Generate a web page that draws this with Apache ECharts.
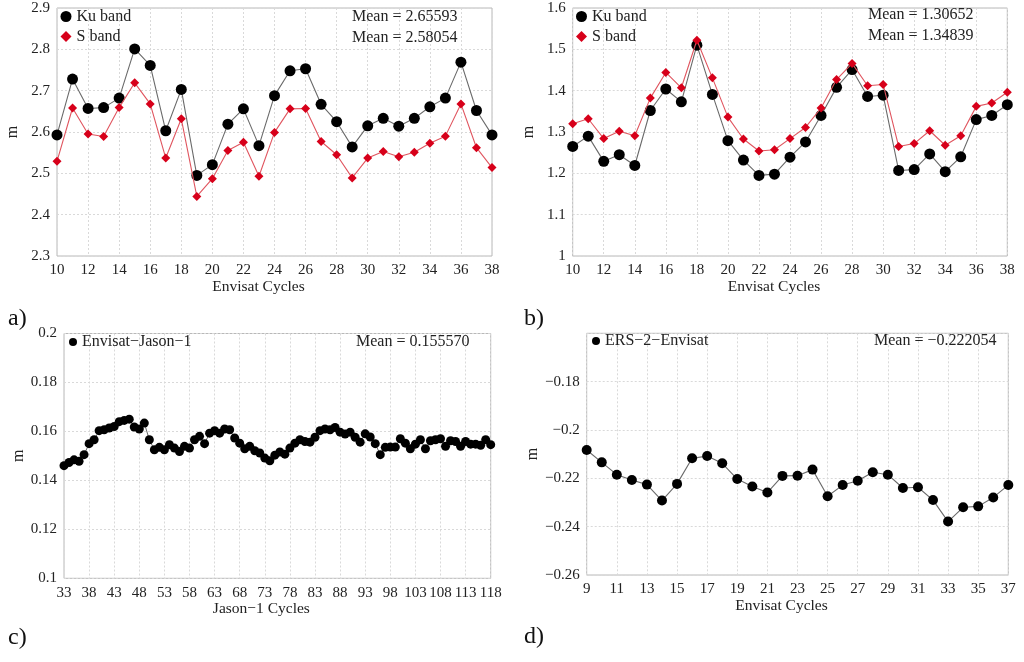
<!DOCTYPE html>
<html>
<head>
<meta charset="utf-8">
<script src="https://cdn.jsdelivr.net/npm/echarts@6/dist/echarts.min.js"></script>
<style>
html,body{margin:0;padding:0;background:#fff;}
#chart{width:1024px;height:662px;}
</style>
</head>
<body>
<div id="chart"></div>
<script>
// ---------- DATA ----------
const cyclesAB = [10,11,12,13,14,15,16,17,18,19,20,21,22,23,24,25,26,27,28,29,30,31,32,33,34,35,36,37,38];
const kuA = [2.593,2.728,2.657,2.659,2.682,2.801,2.761,2.603,2.703,2.495,2.521,2.619,2.656,2.567,2.688,2.748,2.753,2.667,2.625,2.564,2.615,2.633,2.614,2.633,2.661,2.682,2.769,2.652,2.593];
const sA  = [2.529,2.658,2.595,2.589,2.659,2.719,2.668,2.537,2.632,2.444,2.487,2.555,2.575,2.493,2.599,2.656,2.657,2.577,2.545,2.489,2.537,2.553,2.540,2.551,2.573,2.590,2.668,2.562,2.514];
const kuB = [1.265,1.290,1.229,1.245,1.219,1.352,1.404,1.373,1.510,1.391,1.279,1.232,1.195,1.198,1.239,1.276,1.340,1.408,1.451,1.386,1.389,1.207,1.209,1.247,1.204,1.240,1.330,1.340,1.366];
const sB  = [1.320,1.332,1.284,1.302,1.291,1.382,1.444,1.407,1.522,1.431,1.336,1.283,1.254,1.257,1.284,1.311,1.358,1.427,1.466,1.412,1.415,1.265,1.272,1.303,1.268,1.291,1.362,1.370,1.396];
const cyclesC = [];
for (let c = 33; c <= 118; c++) cyclesC.push(c);
const valC = [0.1460,0.1473,0.1484,0.1478,0.1505,0.1550,0.1566,0.1603,0.1607,0.1614,0.1620,0.1640,0.1645,0.1650,0.1618,0.1610,0.1634,0.1566,0.1525,0.1535,0.1525,
  0.1546,0.1532,0.1518,0.1539,0.1532,0.1566,0.1580,0.1550,0.1593,0.1603,0.1593,0.1610,0.1607,0.1573,0.1552,0.1529,0.1539,0.1521,0.1512,0.1491,0.1480,
  0.1503,0.1516,0.1507,0.1532,0.1552,0.1566,0.1559,0.1556,0.1576,0.1603,0.1610,0.1607,0.1616,0.1597,0.1589,0.1597,0.1576,0.1556,0.1590,0.1577,0.1550,
  0.1505,0.1535,0.1536,0.1536,0.1570,0.1552,0.1529,0.1548,0.1566,0.1529,0.1562,0.1566,0.1570,0.1539,0.1562,0.1559,0.1539,0.1559,0.1548,0.1548,0.1543,0.1566,0.1546];
const cyclesD = [9,10,11,12,13,14,15,16,17,18,19,20,21,22,23,24,25,26,27,28,29,30,31,32,33,34,35,36,37];
const valD = [-0.2083,-0.2134,-0.2185,-0.2207,-0.2226,-0.2292,-0.2223,-0.2117,-0.2108,-0.2138,-0.2203,-0.2234,-0.2259,-0.2190,-0.2189,-0.2164,-0.2274,-0.2228,-0.2210,-0.2175,-0.2185,-0.2240,-0.2237,-0.2290,-0.2379,-0.2320,-0.2316,-0.2279,-0.2228];

const seriesNames = ['Ku band','S band','Envisat\u2212Jason\u22121','ERS\u22122\u2212Envisat'];
const meanTexts = [
  ['Mean = 2.65593','Mean = 2.58054'],
  ['Mean = 1.30652','Mean = 1.34839'],
  ['Mean = 0.155570'],
  ['Mean = \u22120.222054']
];
const panelLabels = ['a)','b)','c)','d)'];
const xNames = ['Envisat Cycles','Envisat Cycles','Jason\u22121 Cycles','Envisat Cycles'];
const yName = 'm';

// ---------- STYLE ----------
const FONT = 'Liberation Serif';
const TXT = '#222';
const gridLine = {show:true, lineStyle:{color:'#d9d9d9', type:[2,2], width:1}};
const fmt = v => String(+v.toFixed(4)).replace('-', '\u2212');
const nameStyle = {fontFamily:FONT, fontSize:15.5, color:TXT, padding:[0,32,0,0]};

function pairs(xs, ys){ return xs.map((x,i)=>[x, ys[i]]); }

function xVal(idx, name){
  return {gridIndex:idx, type:'value', min:10, max:38, interval:2,
    axisLine:{show:false}, axisTick:{show:false}, splitLine:gridLine,
    axisLabel:{fontFamily:FONT, fontSize:15, color:TXT, margin:7},
    name:name, nameLocation:'middle', nameGap:23, nameTextStyle:nameStyle};
}
function xCat(idx, data, every, name){
  return {gridIndex:idx, type:'category', data:data.map(String), boundaryGap:false,
    axisLine:{show:false}, axisTick:{show:false},
    splitLine:{show:true, interval:every, lineStyle:{color:'#d9d9d9', type:[2,2], width:1}},
    axisLabel:{interval:every, fontFamily:FONT, fontSize:15, color:TXT, margin:7},
    name:name, nameLocation:'middle', nameGap:23, nameTextStyle:nameStyle};
}
function yAx(idx, min, max, interval, showMax){
  return {gridIndex:idx, type:'value', min:min, max:max, interval:interval,
    axisLine:{show:false}, axisTick:{show:false}, splitLine:gridLine,
    axisLabel:{fontFamily:FONT, fontSize:15, color:TXT, margin:7, formatter:fmt, showMaxLabel:showMax},
    name:yName, nameLocation:'middle', nameGap:36, nameRotate:90,
    nameTextStyle:{fontFamily:FONT, fontSize:16, color:TXT}};
}

const gridBase = {show:true, borderColor:'#b8b8b8', borderWidth:1, containLabel:false};

const titles = [];
const meanPos = [[352,9],[868,7],[356,334],[874,333]];
meanTexts.forEach((arr,p)=>{
  arr.forEach((t,j)=>{
    titles.push({text:t, left:meanPos[p][0], top:meanPos[p][1]+j*20.5, padding:0,
      textStyle:{fontFamily:FONT, fontSize:16, fontWeight:'normal', color:TXT}});
  });
});
const labPos = [[8,307],[524,307],[8,626],[524,625]];
panelLabels.forEach((t,p)=>{
  titles.push({text:t, left:labPos[p][0], top:labPos[p][1], padding:0,
    textStyle:{fontFamily:FONT, fontSize:24, fontWeight:'normal', color:'#111'}});
});

const legTS = {fontFamily:FONT, fontSize:16, color:TXT, lineHeight:17};
const legends = [
  {left:60.5, top:8, orient:'vertical', itemWidth:11, itemHeight:11, itemGap:3, padding:0, textStyle:legTS,
   data:[{name:seriesNames[0], icon:'circle'},{name:seriesNames[1], icon:'diamond'}]},
  {left:576, top:8, orient:'vertical', itemWidth:11, itemHeight:11, itemGap:3, padding:0, textStyle:legTS,
   data:[{name:seriesNames[0], icon:'circle'},{name:seriesNames[1], icon:'diamond'}]},
  {left:69, top:333.5, orient:'vertical', itemWidth:8, itemHeight:8, padding:0, textStyle:legTS,
   data:[{name:seriesNames[2], icon:'circle'}]},
  {left:592, top:332.5, orient:'vertical', itemWidth:8, itemHeight:8, padding:0, textStyle:legTS,
   data:[{name:seriesNames[3], icon:'circle'}]}
];

const kuStyle = {symbol:'circle', symbolSize:11, itemStyle:{color:'#000'}, lineStyle:{color:'#6a6a6a', width:1.1}};
const sStyle = {symbol:'diamond', symbolSize:9, itemStyle:{color:'#d7001a'}, lineStyle:{color:'#e0555f', width:1.1}};

const option = {
  backgroundColor:'#fff',
  animation:false,
  title:titles,
  legend:legends,
  grid:[
    Object.assign({left:57, top:8, width:435, height:248}, gridBase),
    Object.assign({left:572.7, top:8, width:434.6, height:248}, gridBase),
    Object.assign({left:64, top:333.5, width:426.7, height:244.8}, gridBase),
    Object.assign({left:586.7, top:333.3, width:421.6, height:241.7}, gridBase)
  ],
  xAxis:[
    xVal(0, xNames[0]),
    xVal(1, xNames[1]),
    xCat(2, cyclesC, 4, xNames[2]),
    xCat(3, cyclesD, 1, xNames[3])
  ],
  yAxis:[
    yAx(0, 2.3, 2.9, 0.1, true),
    yAx(1, 1, 1.6, 0.1, true),
    yAx(2, 0.1, 0.2, 0.02, true),
    yAx(3, -0.26, -0.16, 0.02, false)
  ],
  series:[
    Object.assign({name:seriesNames[0], type:'line', xAxisIndex:0, yAxisIndex:0, data:pairs(cyclesAB, kuA), z:3}, kuStyle),
    Object.assign({name:seriesNames[1], type:'line', xAxisIndex:0, yAxisIndex:0, data:pairs(cyclesAB, sA), z:4}, sStyle),
    Object.assign({name:seriesNames[0], type:'line', xAxisIndex:1, yAxisIndex:1, data:pairs(cyclesAB, kuB), z:3}, kuStyle),
    Object.assign({name:seriesNames[1], type:'line', xAxisIndex:1, yAxisIndex:1, data:pairs(cyclesAB, sB), z:4}, sStyle),
    {name:seriesNames[2], type:'line', xAxisIndex:2, yAxisIndex:2, data:valC, symbol:'circle', symbolSize:9,
      showAllSymbol:true, itemStyle:{color:'#000'}, lineStyle:{color:'#6a6a6a', width:1}},
    {name:seriesNames[3], type:'line', xAxisIndex:3, yAxisIndex:3, data:valD, symbol:'circle', symbolSize:10,
      showAllSymbol:true, itemStyle:{color:'#000'}, lineStyle:{color:'#6a6a6a', width:1.1}}
  ]
};

const chart = echarts.init(document.getElementById('chart'), null, {renderer:'canvas'});
chart.setOption(option);
</script>
</body>
</html>
